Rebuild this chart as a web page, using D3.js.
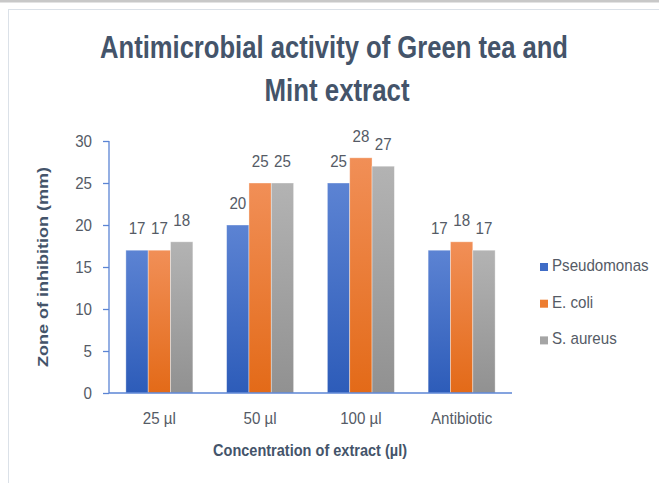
<!DOCTYPE html>
<html>
<head>
<meta charset="utf-8">
<script src="https://cdn.jsdelivr.net/npm/d3@7/dist/d3.min.js"></script>
<style>
  html, body { margin: 0; padding: 0; background: #ffffff; }
  svg { display: block; }
  text { font-family: "Liberation Sans", Arial, sans-serif; }
</style>
</head>
<body>
<svg id="chart" width="659" height="483"></svg>
<script>
// Zone of inhibition (mm) per extract concentration and bacterium
const categories = ["25 µl", "50 µl", "100 µl", "Antibiotic"];
const seriesNames = ["Pseudomonas", "E. coli", "S. aureus"];
const pseudomonas = [17, 20, 25, 17];
const eColi = [17, 25, 28, 18];
const sAureus = [18, 25, 27, 17];
const yTicks = [0, 5, 10, 15, 20, 25, 30];

const seriesValues = [pseudomonas, eColi, sAureus];
const colors = [
  { top: "#5c83d3", bottom: "#2d5cb9", solid: "#3f6cc6" },
  { top: "#f18f57", bottom: "#e36a18", solid: "#ed7d31" },
  { top: "#b3b3b3", bottom: "#919191", solid: "#a5a5a5" }
];

const svg = d3.select("#chart");
const textColor = "#555b66";
const axisColor = "#5b84d4";
const squeeze = 0.89;
const baseSize = 17;

// Outer frame
svg.append("rect").attr("x", 0).attr("y", 0).attr("width", 659).attr("height", 2.5)
  .attr("fill", "#c8c8c8");
svg.append("rect").attr("x", 8.5).attr("y", 9.5).attr("width", 700).attr("height", 600)
  .attr("fill", "#ffffff").attr("stroke", "#dbe1e8").attr("stroke-width", 1);

// Gradients for bars
const defs = svg.append("defs");
colors.forEach((c, i) => {
  const g = defs.append("linearGradient").attr("id", "grad" + i)
    .attr("x1", 0).attr("y1", 0).attr("x2", 0).attr("y2", 1);
  g.append("stop").attr("offset", "0%").attr("stop-color", c.top);
  g.append("stop").attr("offset", "100%").attr("stop-color", c.bottom);
});

const plot = { left: 109, right: 512, top: 141, bottom: 393 };

const x0 = d3.scaleBand().domain(categories)
  .range([plot.left, plot.right]).paddingInner(0.335).paddingOuter(0.1675);
const x1 = d3.scaleBand().domain(d3.range(seriesNames.length))
  .range([0, x0.bandwidth()]).padding(0);
const y = d3.scaleLinear().domain([0, 30]).range([plot.bottom, plot.top]);

// Helper: slightly condensed text
function label(parent, x, yPos, str, opts) {
  const o = Object.assign({ size: baseSize, weight: "normal", anchor: "middle", sx: squeeze, fill: textColor }, opts || {});
  const t = parent.append("text")
    .attr("transform", `translate(${x},${yPos}) scale(${o.sx},1)`)
    .attr("text-anchor", o.anchor)
    .attr("font-size", o.size)
    .attr("font-weight", o.weight)
    .attr("fill", o.fill)
    .text(str);
  if (o.length) t.attr("textLength", o.length / o.sx).attr("lengthAdjust", "spacingAndGlyphs");
  return t;
}

// Bars
const groups = svg.append("g").selectAll("g")
  .data(categories)
  .join("g")
  .attr("transform", d => `translate(${x0(d)},0)`);

groups.selectAll("rect")
  .data((d, ci) => seriesValues.map((vals, si) => ({ si, v: vals[ci] })))
  .join("rect")
  .attr("x", d => x1(d.si))
  .attr("y", d => y(d.v))
  .attr("width", x1.bandwidth())
  .attr("height", d => y(0) - y(d.v))
  .attr("fill", d => `url(#grad${d.si})`)
  .attr("stroke", "rgba(255,255,255,0.45)")
  .attr("stroke-width", 0.8);

// Value labels
const labelLayer = svg.append("g");
categories.forEach((cat, ci) => {
  seriesValues.forEach((vals, si) => {
    const cx = x0(cat) + x1(si) + x1.bandwidth() / 2;
    label(labelLayer, cx, y(vals[ci]) - 16, String(vals[ci]));
  });
});

// Y axis
const yAxis = svg.append("g")
  .attr("transform", `translate(${plot.left},0)`)
  .call(d3.axisLeft(y).tickValues(yTicks).tickSize(6).tickPadding(11));
yAxis.select(".domain").attr("stroke", axisColor).attr("stroke-width", 1.3)
  .attr("d", `M0,${plot.top}V${plot.bottom}`);
yAxis.selectAll(".tick line").attr("stroke", axisColor).attr("stroke-width", 1.3);
yAxis.selectAll(".tick text")
  .attr("fill", textColor).attr("font-size", baseSize)
  .attr("font-family", "Liberation Sans, Arial, sans-serif")
  .attr("x", -17 / squeeze)
  .attr("transform", `scale(${squeeze},1)`);

// X axis
const xAxis = svg.append("g")
  .attr("transform", `translate(0,${plot.bottom})`)
  .call(d3.axisBottom(x0).tickSize(0).tickFormat(""));
xAxis.select(".domain").attr("stroke", axisColor).attr("stroke-width", 1.3)
  .attr("d", `M${plot.left},0H${plot.right}`);
const xLabels = svg.append("g");
categories.forEach(cat => {
  label(xLabels, x0(cat) + x0.bandwidth() / 2, plot.bottom + 31, cat);
});

// Axis titles
label(svg, 310, 456, "Concentration  of extract (µl)", { size: 16, weight: "bold", length: 194, fill: "#44546a" });
svg.append("text")
  .attr("transform", "translate(48,267) rotate(-90)")
  .attr("text-anchor", "middle")
  .attr("font-size", 15)
  .attr("font-weight", "bold")
  .attr("fill", "#44546a")
  .attr("textLength", 200).attr("lengthAdjust", "spacingAndGlyphs")
  .text("Zone of inhibition  (mm)");

// Title
label(svg, 334, 58, "Antimicrobial  activity of Green tea and", { size: 31, weight: "bold", length: 468, fill: "#44546a" });
label(svg, 337, 101, "Mint extract", { size: 31, weight: "bold", length: 145, fill: "#44546a" });

// Legend
const legend = svg.append("g");
seriesNames.forEach((name, i) => {
  const by = 271 + i * 36.7;
  legend.append("rect").attr("x", 540).attr("y", by - 8).attr("width", 8).attr("height", 8)
    .attr("fill", colors[i].solid);
  label(legend, 552, by, name, { anchor: "start" });
});
</script>
</body>
</html>
